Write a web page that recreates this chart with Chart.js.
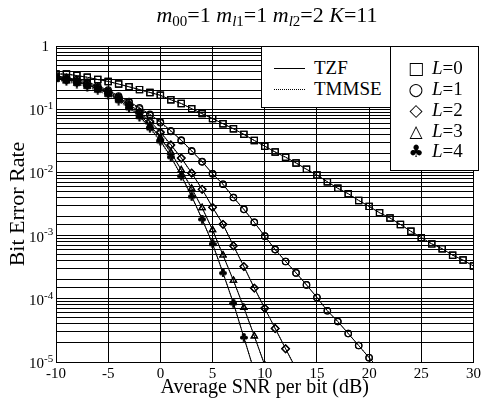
<!DOCTYPE html>
<html>
<head>
<meta charset="utf-8">
<script src="https://cdn.jsdelivr.net/npm/chart.js@4.4.1/dist/chart.umd.min.js"></script>
<style>
  body { margin: 0; background: #fff; }
  #wrap { position: relative; width: 484px; height: 401px; }
  #title { position: absolute; left: 0; width: 534px; top: 2px; text-align: center;
           font: 22px 'Liberation Serif', serif; color: #000; white-space: nowrap; }
  #title sub { font-size: 15px; vertical-align: -4px; line-height: 0; }
  .box { position: absolute; box-sizing: border-box; background: #fff; border: 1px solid #000;
         font: 19px 'Liberation Serif', serif; color: #000; }
  .row { position: absolute; line-height: 20px; white-space: nowrap; }
  .sample { position: absolute; width: 31px; height: 0; }
  .sym { position: absolute; width: 22px; text-align: center; font: 17px 'DejaVu Sans', sans-serif; line-height: 20px; }
</style>
</head>
<body>
<div id="wrap">
  <canvas id="chart" width="484" height="401"></canvas>
  <div id="title"><i>m</i><sub>00</sub>=1 <i>m</i><sub><i>l</i>1</sub>=1 <i>m</i><sub><i>l</i>2</sub>=2 <i>K</i>=11</div>
  <div class="box" style="left:261px;top:46px;width:130px;height:62px;">
    <div class="sample" style="left:12px;top:21px;border-top:1px solid #000;"></div>
    <div class="row" style="left:52px;top:11px;">TZF</div>
    <div class="sample" style="left:12px;top:42px;border-top:1px dotted #000;"></div>
    <div class="row" style="left:52px;top:32px;">TMMSE</div>
  </div>
  <div class="box" style="left:390px;top:46px;width:89px;height:125px;">
    <div class="sym" style="left:14px;top:11px;">□</div><div class="row" style="left:41px;top:11px;"><i>L</i>=0</div>
    <div class="sym" style="left:14px;top:32px;">○</div><div class="row" style="left:41px;top:32px;"><i>L</i>=1</div>
    <div class="sym" style="left:14px;top:53px;">◇</div><div class="row" style="left:41px;top:53px;"><i>L</i>=2</div>
    <div class="sym" style="left:14px;top:74px;">△</div><div class="row" style="left:41px;top:74px;"><i>L</i>=3</div>
    <div class="sym" style="left:14px;top:94px;">♣</div><div class="row" style="left:41px;top:94px;"><i>L</i>=4</div>
  </div>
</div>
<script>
// SNR axis (dB)
const snr = [-10,-9,-8,-7,-6,-5,-4,-3,-2,-1,0,1,2,3,4,5,6,7,8,9,10,
             11,12,13,14,15,16,17,18,19,20,21,22,23,24,25,26,27,28,29,30];

// TZF curves
const berL0 = [0.36,0.36,0.34,0.32,0.295,0.275,0.25,0.226,0.204,0.184,0.166,0.141,0.123,0.102,0.085,0.071,0.059,0.049,0.040,0.032,0.026,
               0.021,0.0174,0.0141,0.0112,0.0091,0.0071,0.0056,0.0046,0.0036,0.0029,0.0023,0.0019,0.0015,0.00117,0.00093,0.00074,0.00062,0.00049,0.00041,0.00033];
const berL1 = [0.339,0.316,0.295,0.269,0.234,0.200,0.162,0.132,0.105,0.083,0.063,0.0457,0.0324,0.0219,0.0148,0.0095,0.0065,0.0040,0.0026,0.00162,0.00098,
               0.00060,0.00039,0.000257,0.000166,0.000105,0.0000646,0.0000437,0.0000282,0.0000182,0.0000117,0.0000076];
const berL2 = [0.331,0.309,0.282,0.257,0.224,0.191,0.155,0.120,0.091,0.0646,0.0437,0.0275,0.0170,0.0098,0.0054,0.0028,0.00151,0.00069,0.000324,0.000148,0.0000708,
               0.0000339,0.0000162,0.0000078];
const berL3 = [0.324,0.302,0.275,0.245,0.214,0.182,0.148,0.115,0.083,0.056,0.0355,0.0209,0.0110,0.0056,0.00275,0.00123,0.00049,0.000195,0.0000724,0.0000257,0.0000089];
const berL4 = [0.316,0.295,0.269,0.240,0.209,0.178,0.141,0.107,0.0776,0.0513,0.0316,0.0178,0.0089,0.0042,0.00182,0.00074,0.000257,0.000085,0.0000245,0.0000071];

// TMMSE curves (almost on top of TZF, slightly better at low SNR)
const mmseL0 = berL0;
const mmseL1 = [0.315,0.295,0.276,0.252,0.221,0.190,0.155,0.127,0.101,0.080,0.061,0.0445,0.0318,0.0216,0.0147,0.0095,0.0065,0.0040,0.0026,0.00162,0.00098,
                0.00060,0.00039,0.000257,0.000166,0.000105,0.0000646,0.0000437,0.0000282,0.0000182,0.0000117,0.0000076];
const mmseL2 = [0.305,0.287,0.263,0.240,0.210,0.180,0.147,0.115,0.087,0.062,0.0423,0.0268,0.0167,0.0097,0.0054,0.0028,0.00151,0.00069,0.000324,0.000148,0.0000708,
                0.0000339,0.0000162,0.0000078];
const mmseL3 = [0.298,0.279,0.256,0.229,0.200,0.171,0.140,0.109,0.079,0.054,0.0344,0.0204,0.0108,0.0055,0.00275,0.00123,0.00049,0.000195,0.0000724,0.0000257,0.0000089];
const mmseL4 = [0.290,0.272,0.249,0.223,0.195,0.167,0.133,0.102,0.074,0.049,0.0306,0.0174,0.0087,0.0041,0.00182,0.00074,0.000257,0.000085,0.0000245,0.0000071];

const xTicks = [-10,-5,0,5,10,15,20,25,30];
const yTickExponents = [0,-1,-2,-3,-4,-5];

// club marker for L=4
const club = document.createElement('canvas');
club.width = 8; club.height = 9;
(function() {
    const c = club.getContext('2d');
    c.fillStyle = '#000';
    c.beginPath(); c.arc(4, 2, 1.8, 0, Math.PI * 2); c.fill();
    c.beginPath(); c.arc(2, 4.8, 1.8, 0, Math.PI * 2); c.fill();
    c.beginPath(); c.arc(6, 4.8, 1.8, 0, Math.PI * 2); c.fill();
    c.beginPath(); c.moveTo(4, 4); c.lineTo(2.8, 8.5); c.lineTo(5.2, 8.5); c.closePath(); c.fill();
})();

function pts(arr) {
    return arr.map((v, i) => ({ x: snr[i], y: v }));
}

const markers = [
    { style: 'rect', radius: 4.4 },
    { style: 'circle', radius: 3.2 },
    { style: 'rectRot', radius: 3.8 },
    { style: 'triangle', radius: 3.6 },
    { style: club, radius: 4 }
];

function series(arr, m, dotted) {
    return {
        data: pts(arr),
        borderColor: '#000',
        borderWidth: 1,
        borderDash: dotted ? [1, 1.5] : [],
        pointStyle: m.style,
        pointRadius: m.radius,
        pointBorderColor: '#000',
        pointBorderWidth: 1.2,
        pointBackgroundColor: 'rgba(0,0,0,0)',
        tension: 0
    };
}

const tzf = [berL0, berL1, berL2, berL3, berL4];
const mmse = [mmseL0, mmseL1, mmseL2, mmseL3, mmseL4];
const datasets = [];
tzf.forEach((arr, i) => datasets.push(series(arr, markers[i], false)));
mmse.forEach((arr, i) => datasets.push(series(arr, markers[i], true)));

const serif = "'Liberation Serif', serif";

// y tick labels 10^n with superscripts
const yLabels = {
    id: 'yLabels',
    afterDraw(chart) {
        const ctx = chart.ctx;
        const y = chart.scales.y;
        ctx.save();
        ctx.fillStyle = '#000';
        ctx.textBaseline = 'middle';
        yTickExponents.forEach(e => {
            const py = y.getPixelForValue(Math.pow(10, e));
            ctx.font = '15px ' + serif;
            ctx.textAlign = 'right';
            if (e === 0) {
                ctx.fillText('1', 49, py + 1);
            } else {
                ctx.fillText('10', 44, py + 2);
                ctx.font = '11px ' + serif;
                ctx.textAlign = 'left';
                ctx.fillText(String(e), 44, py - 3);
            }
        });
        ctx.restore();
    }
};

new Chart(document.getElementById('chart'), {
    type: 'line',
    data: { datasets: datasets },
    plugins: [yLabels],
    options: {
        responsive: false,
        animation: false,
        layout: { padding: { top: 46, right: 6, left: 0, bottom: 0 } },
        plugins: { legend: { display: false }, tooltip: { enabled: false } },
        scales: {
            x: {
                type: 'linear',
                min: -10,
                max: 30,
                afterBuildTicks: s => { s.ticks = xTicks.map(v => ({ value: v })); },
                afterFit: s => { s.height = 39; },
                grid: { color: '#000', lineWidth: 1, drawTicks: false },
                border: { color: '#000', width: 1 },
                ticks: { color: '#000', font: { family: serif, size: 15 }, padding: 3, maxRotation: 0 },
                title: { display: true, text: 'Average SNR per bit (dB)', color: '#000',
                         font: { family: serif, size: 20 }, padding: { top: 0, bottom: 1 } }
            },
            y: {
                type: 'logarithmic',
                min: 1e-5,
                max: 1,
                afterFit: s => { s.width = 56; },
                grid: { color: '#000', lineWidth: 1, drawTicks: false },
                border: { color: '#000', width: 1 },
                ticks: { display: false },
                title: { display: true, text: 'Bit Error Rate', color: '#000',
                         font: { family: serif, size: 22 }, padding: { top: 5, bottom: 0 } }
            }
        }
    }
});
</script>
</body>
</html>
